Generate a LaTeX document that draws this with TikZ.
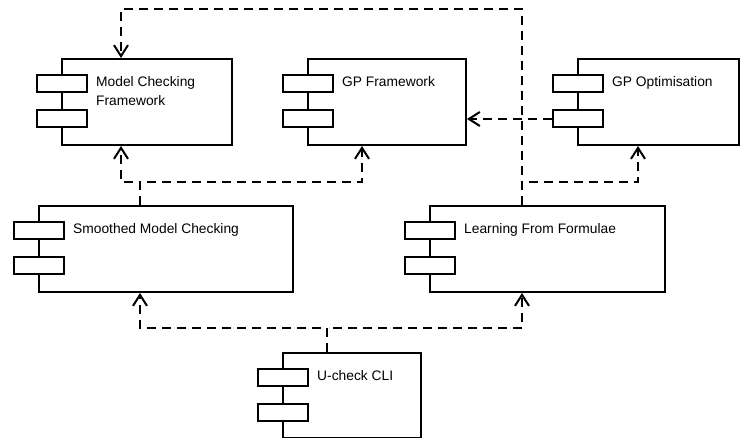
\documentclass[tikz,border=0pt]{standalone}
\usepackage{fontspec}
\setmainfont{Liberation Sans}
\usetikzlibrary{arrows.meta}
\tikzset{
  box/.style={draw, line width=2pt, fill=white, inner sep=0pt},
  tab/.style={draw, line width=2pt, fill=white, inner sep=0pt, minimum width=50pt, minimum height=17pt},
  lbl/.style={inner sep=0pt, align=left, font=\fontsize{13.8}{19.5}\selectfont},
  dep/.style={line width=2pt, dash pattern=on 9pt off 6pt, -{Straight Barb[length=11pt,width=14pt,line width=2pt]}}
}
\newcommand\comp[6]{%
  \node[box, minimum width=#4pt, minimum height=#5pt, anchor=north west] (#1) at (#2,#3) {};
  \node[tab] (#1a) at ([xshift=1pt,yshift=-26pt]#1.north west) {};
  \node[tab] (#1b) at ([xshift=1pt,yshift=-61pt]#1.north west) {};
  \node[lbl, anchor=north west] (#1t) at ([xshift=35pt,yshift=-18pt]#1.north west) {#6};
}
\begin{document}
\begin{tikzpicture}[x=1pt,y=-1pt]
\useasboundingbox (0,0) rectangle (740,438);
\comp{mcf}{61}{58}{170}{86}{Model Checking\\Framework}
\comp{gpf}{307}{58}{158}{86}{GP Framework}
\comp{gpo}{577}{58}{161}{86}{GP Optimisation}
\comp{smc}{38}{205}{254}{86}{Smoothed Model Checking}
\comp{lff}{429}{205}{235}{86}{Learning From Formulae}
\comp{ucli}{282}{352}{138}{85}{U-check CLI}
% LFF -> MCF
\draw[dep] ([xshift=93pt]lff.north west) |- ([xshift=60pt,yshift=49pt]mcf.north west) -- ([xshift=60pt]mcf.north west);
% SMC -> MCF, GPF
\draw[dep] ([xshift=102pt]smc.north west) |- ([xshift=60pt,yshift=-36pt]mcf.south west) -- ([xshift=60pt]mcf.south west);
\draw[dep] ([xshift=102pt]smc.north west) |- ([xshift=55pt,yshift=-36pt]gpf.south west) -- ([xshift=55pt]gpf.south west);
% LFF -> GPO
\draw[dep] ([xshift=93pt]lff.north west) |- ([xshift=61pt,yshift=-36pt]gpo.south west) -- ([xshift=61pt]gpo.south west);
% GPO -> GPF
\draw[dep] (gpob.west) -- (gpob.west -| gpf.east);
% UCLI -> SMC, LFF
\draw[dep] ([xshift=45pt]ucli.north west) |- ([xshift=102pt,yshift=-35pt]smc.south west) -- ([xshift=102pt]smc.south west);
\draw[dep] ([xshift=45pt]ucli.north west) |- ([xshift=93pt,yshift=-35pt]lff.south west) -- ([xshift=93pt]lff.south west);
\end{tikzpicture}
\end{document}
